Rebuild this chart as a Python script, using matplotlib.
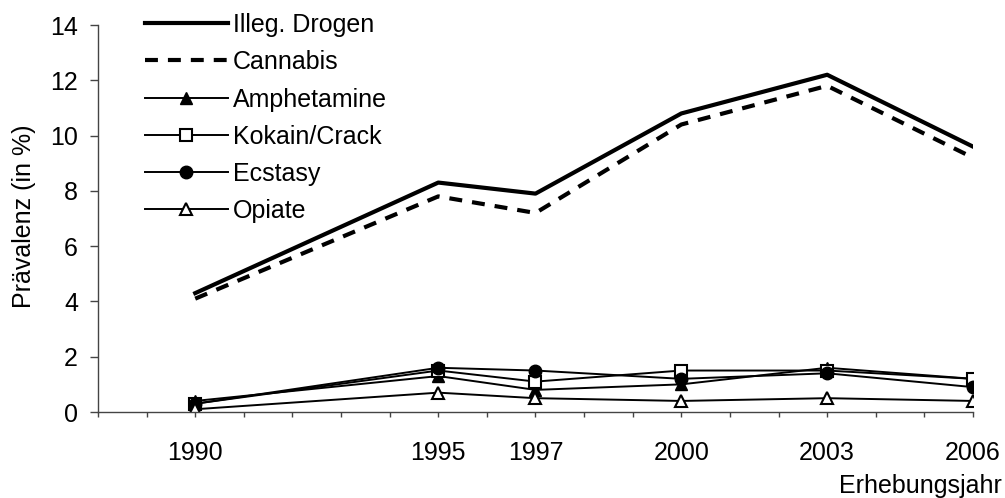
import matplotlib
matplotlib.use("Agg")
import matplotlib.pyplot as plt
from matplotlib.ticker import MultipleLocator

plt.rcParams['font.family'] = ['Liberation Sans', 'DejaVu Sans']

years = [1990, 1995, 1997, 2000, 2003, 2006]
illeg = [4.3, 8.3, 7.9, 10.8, 12.2, 9.6]
cannabis = [4.1, 7.8, 7.2, 10.4, 11.8, 9.2]
amphetamine = [0.4, 1.3, 0.8, 1.0, 1.6, 1.2]
kokain = [0.3, 1.5, 1.1, 1.5, 1.5, 1.2]
ecstasy = [0.3, 1.6, 1.5, 1.2, 1.4, 0.9]
opiate = [0.1, 0.7, 0.5, 0.4, 0.5, 0.4]
yticks = [0, 2, 4, 6, 8, 10, 12, 14]

FS = 18
fig = plt.figure(figsize=(10.05, 4.98), dpi=100)
ax = fig.add_axes([98/1005, 1 - 412/498, (973-98)/1005, (412-25)/498])

ax.plot(years, illeg, color='black', lw=3, label='Illeg. Drogen')
ax.plot(years, cannabis, color='black', lw=3, ls=(0, (3.1, 2.4)), label='Cannabis')
ms = 9
lw = 1.4
ax.plot(years, amphetamine, color='black', lw=lw, marker='^', ms=ms, mfc='black', mec='black', label='Amphetamine')
ax.plot(years, kokain, color='black', lw=lw, marker='s', ms=ms - 0.5, mfc='white', mec='black', mew=1.5, label='Kokain/Crack')
ax.plot(years, ecstasy, color='black', lw=lw, marker='o', ms=ms, mfc='black', mec='black', label='Ecstasy')
ax.plot(years, opiate, color='black', lw=lw, marker='^', ms=ms, mfc='white', mec='black', mew=1.5, label='Opiate')

ax.set_xlim(1988, 2006)
ax.set_ylim(0, 14)
ax.set_yticks(yticks)
ax.set_xticks(years)
ax.xaxis.set_minor_locator(MultipleLocator(1))
axc = '#444444'
ax.tick_params(axis='y', which='major', labelsize=FS, direction='out', length=5.8, pad=8.6, color=axc, width=1)
ax.tick_params(axis='x', which='major', labelsize=FS, direction='out', length=3.6, pad=17, color=axc, width=1)
ax.tick_params(axis='x', which='minor', direction='out', length=3.6, color=axc, width=1)
for s in ['top', 'right']:
    ax.spines[s].set_visible(False)
for s in ['left', 'bottom']:
    ax.spines[s].set_color(axc)
    ax.spines[s].set_linewidth(1)

fig.text(24/1005, 1 - 216/498, 'Prävalenz (in %)', rotation=90, ha='center', va='center', fontsize=FS)
fig.text(1002/1005, 1 - 486/498, 'Erhebungsjahr', ha='right', va='center', fontsize=FS)

leg = ax.legend(loc='upper left', bbox_to_anchor=(145/1005, 1 - 13/498), bbox_transform=fig.transFigure,
                frameon=False, fontsize=FS, handlelength=3.3, handletextpad=0.2,
                labelspacing=0.53, borderaxespad=0, borderpad=0)

fig.savefig('out.png', dpi=100)
